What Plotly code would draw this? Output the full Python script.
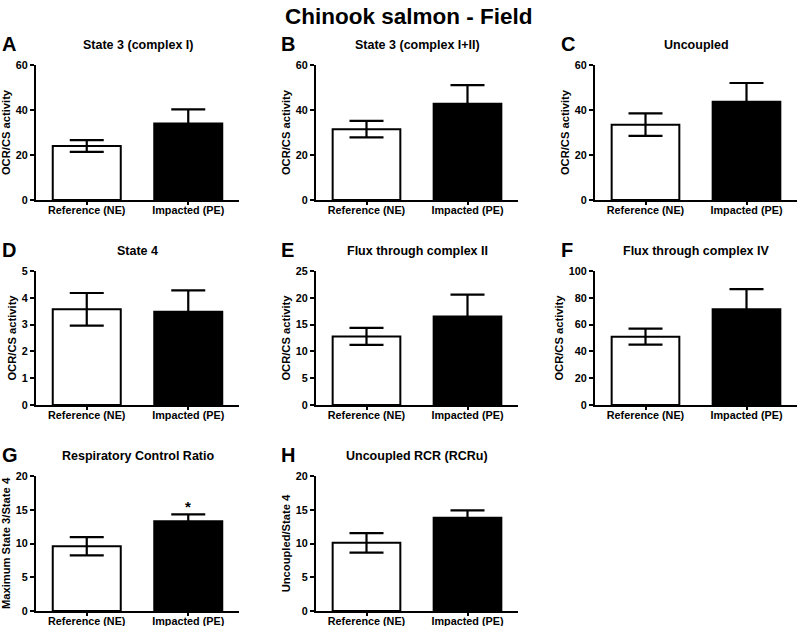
import plotly.graph_objects as go

categories = ["Reference (NE)", "Impacted (PE)"]
panel_letters = ["A", "B", "C", "D", "E", "F", "G", "H"]
panel_titles = ["State 3 (complex I)", "State 3 (complex I+II)", "Uncoupled",
                "State 4", "Flux through complex II", "Flux through complex IV",
                "Respiratory Control Ratio", "Uncoupled RCR (RCRu)"]
y_titles = ["OCR/CS activity"] * 6 + ["Maximum State 3/State 4", "Uncoupled/State 4"]
means = [[24.0, 34.0], [31.5, 42.8], [33.5, 43.7],
         [3.57, 3.48], [12.8, 16.5], [51.0, 71.5],
         [9.6, 13.3], [10.1, 13.8]]
errors = [[2.6, 6.3], [3.7, 8.3], [5.0, 8.3],
          [0.61, 0.80], [1.6, 4.1], [6.0, 15.0],
          [1.35, 1.0], [1.45, 1.1]]
y_max = [60, 60, 60, 5, 25, 100, 20, 20]
y_dtick = [20, 20, 20, 1, 5, 20, 5, 5]
significance = ["", "", "", "", "", "", "*", ""]

W, H = 800, 626
col_px = [(36, 239), (316, 518), (595, 797)]
row_px = [(65, 200), (271, 405), (476, 611)]
letter_x = [0, 279, 559]

FONT = "Liberation Sans, Arial, sans-serif"
fig = go.Figure()
layout = dict(template="none", width=W, height=H, margin=dict(l=0, r=0, t=0, b=0),
              paper_bgcolor="white", plot_bgcolor="white", showlegend=False,
              font=dict(family=FONT, color="black"))
annotations = []

for i in range(8):
    r, c = divmod(i, 3)
    x0, x1 = col_px[c]
    ytop, ybot = row_px[r]
    xa = "xaxis" if i == 0 else f"xaxis{i+1}"
    ya = "yaxis" if i == 0 else f"yaxis{i+1}"
    xr = "x" if i == 0 else f"x{i+1}"
    yr = "y" if i == 0 else f"y{i+1}"
    fig.add_trace(go.Bar(
        x=categories, y=means[i], xaxis=xr, yaxis=yr, width=0.67,
        marker=dict(color=["white", "black"], line=dict(color="black", width=2)),
        error_y=dict(type="data", array=errors[i], color="black", thickness=2.2, width=17),
        hoverinfo="skip",
    ))
    layout[xa] = dict(domain=[x0 / W, x1 / W], anchor=yr, range=[-0.5, 1.5],
                      automargin=False,
                      showline=True, linecolor="black", linewidth=2,
                      ticks="outside", ticklen=3, tickwidth=1.5, tickcolor="black",
                      ticklabelstandoff=-4,
                      tickfont=dict(size=10.8, family=FONT, weight="bold"),
                      showgrid=False, zeroline=False, fixedrange=True)
    layout[ya] = dict(domain=[(H - ybot) / H, (H - ytop) / H], anchor=xr,
                      range=[0, y_max[i]], dtick=y_dtick[i], automargin=False,
                      showline=True, linecolor="black", linewidth=2,
                      ticks="outside", ticklen=4, tickwidth=1.5, tickcolor="black",
                      tickfont=dict(size=10.8, family=FONT, weight="bold"),
                      showgrid=False, zeroline=False, fixedrange=True,
                      title=dict(text=y_titles[i], standoff=3,
                                 font=dict(size=11.2, family=FONT, weight="bold")))
    annotations.append(dict(text=f"<b>{panel_titles[i]}</b>", x=(x0 + x1) / 2 / W,
                            y=(H - ytop + 20) / H, xref="paper", yref="paper",
                            xanchor="center", yanchor="middle", showarrow=False,
                            font=dict(size=12.5, family=FONT)))
    annotations.append(dict(text=f"<b>{panel_letters[i]}</b>", x=letter_x[c] / W,
                            y=(H - ytop + 21) / H, xref="paper", yref="paper",
                            xanchor="left", yanchor="middle", showarrow=False,
                            font=dict(size=20, family=FONT)))
    if significance[i]:
        annotations.append(dict(text=f"<b>{significance[i]}</b>", x=1,
                                y=means[i][1] + errors[i][1], xref=xr, yref=yr,
                                xanchor="center", yanchor="bottom", showarrow=False,
                                yshift=-3, font=dict(size=15, family=FONT)))

annotations.append(dict(text="<b>Chinook salmon - Field</b>", x=409 / W, y=(H - 2) / H,
                        xref="paper", yref="paper", xanchor="center", yanchor="top",
                        showarrow=False, font=dict(size=22.5, family=FONT)))
layout["annotations"] = annotations
fig.update_layout(**layout)
fig.write_html("out.html", config={"displayModeBar": False},
               post_script="document.body.style.margin='0';")
